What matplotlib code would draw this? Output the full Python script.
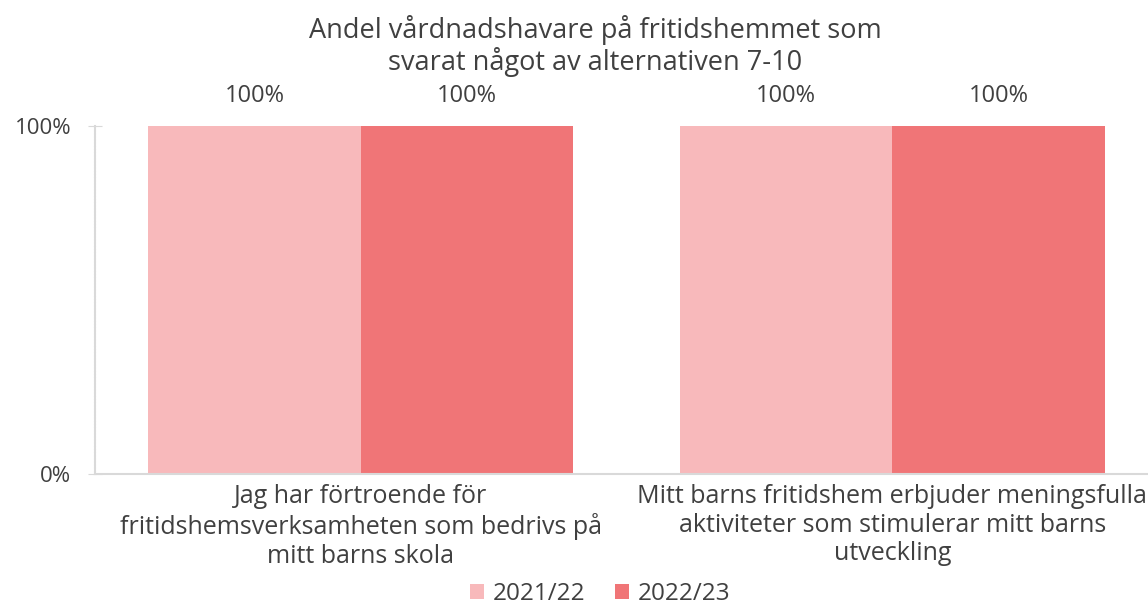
import matplotlib.pyplot as plt
import numpy as np

plt.rcParams["font.family"] = ["Open Sans", "DejaVu Sans"]

categories = [
    "Jag har förtroende för\nfritidshemsverksamheten som bedrivs på\nmitt barns skola",
    "Mitt barns fritidshem erbjuder meningsfulla\naktiviteter som stimulerar mitt barns\nutveckling",
]
series = ["2021/22", "2022/23"]
values_2122 = [100, 100]
values_2223 = [100, 100]
colors = ["#F8B9BB", "#F07577"]
text_color = "#404040"
axis_color = "#D9D9D9"

fig = plt.figure(figsize=(11.48, 6.08), dpi=100)
ax = fig.add_axes([95 / 1148, 1 - 474 / 608, 1063 / 1148, 348 / 608])

x = np.arange(len(categories))
w = 0.4
for vals, name, col, off in [(values_2122, series[0], colors[0], -w / 2),
                             (values_2223, series[1], colors[1], w / 2)]:
    bars = ax.bar(x + off, vals, width=w, color=col, label=name)
    for b, v in zip(bars, vals):
        ax.text(b.get_x() + b.get_width() / 2, v + 5.3, f"{v}%", ha="center", va="bottom",
                fontsize=17, color=text_color)

ax.set_xlim(-0.5, 1.5)
ax.set_ylim(0, 100)
ax.set_yticks([0, 100])
ax.set_yticklabels(["0%", "100%"], fontsize=16, color=text_color)
ax.set_xticks(x)
ax.set_xticklabels(categories, fontsize=18, color=text_color, linespacing=1.2)
ax.tick_params(axis="x", length=0, pad=7)
ax.tick_params(axis="y", direction="inout", length=10, color=axis_color, pad=12)
for s in ["top", "right"]:
    ax.spines[s].set_visible(False)
for s in ["left", "bottom"]:
    ax.spines[s].set_color(axis_color)
    ax.spines[s].set_linewidth(1.5)
ax.spines["left"].set_linestyle((0, (1, 0.5)))

fig.text(595 / 1148, 1 - 46 / 608, "Andel vårdnadshavare på fritidshemmet som\nsvarat något av alternativen 7-10",
         ha="center", va="center", fontsize=19.5, color=text_color, linespacing=1.1)

leg = fig.legend(loc="center", bbox_to_anchor=(600 / 1148, 1 - 594 / 608), ncol=2, frameon=False,
                 fontsize=17.5, handlelength=0.6, handleheight=0.6, handletextpad=0.35, columnspacing=1.2)
for t in leg.get_texts():
    t.set_color(text_color)

fig.savefig("out.png", dpi=100)
